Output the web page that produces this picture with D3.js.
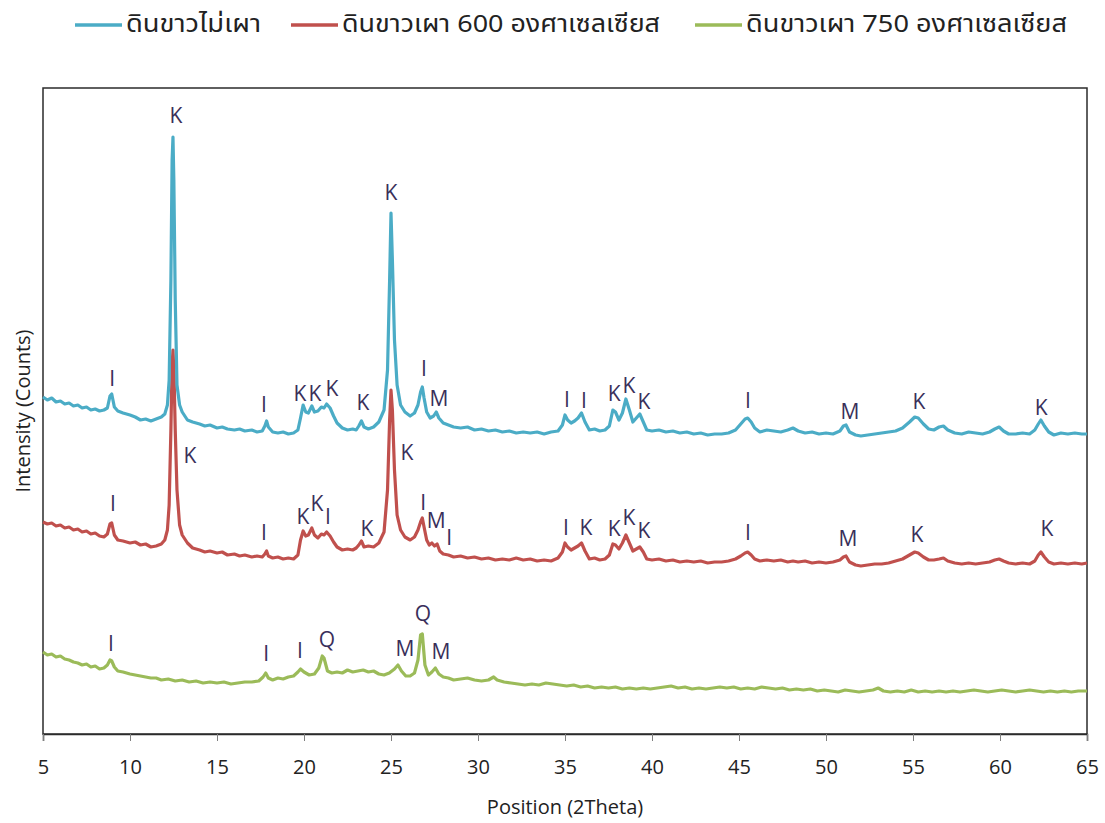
<!DOCTYPE html>
<html>
<head>
<meta charset="utf-8">
<script src="https://cdn.jsdelivr.net/npm/d3@7"></script>
<style>
  body { margin: 0; background: #fff; }
  text { font-family: "Segoe UI", "Open Sans", "Noto Sans", sans-serif; }
  .thai { font-family: Tahoma, "Noto Sans Thai", "Noto Sans Thai UI", "Noto Sans", sans-serif; }
</style>
</head>
<body>
<div id="chart"></div>
<script>
// series names and colours
const seriesNames = ["ดินขาวไม่เผา", "ดินขาวเผา 600 องศาเซลเซียส", "ดินขาวเผา 750 องศาเซลเซียส"];
const seriesColors = ["#4bacc6", "#c0504d", "#9bbb59"];
const xTicks = [5, 10, 15, 20, 25, 30, 35, 40, 45, 50, 55, 60, 65];

// [2theta, intensity] (arbitrary counts, offset stack)
const unfired = [
  [5.0,337],[5.25,334],[5.5,336],[5.75,332],[6.0,333],[6.25,330],[6.5,331],[6.75,328],[7.0,329],[7.25,326],
  [7.5,327],[7.75,324],[8.0,325],[8.25,323],[8.5,324],[8.7,326],[8.85,338],[8.95,340],[9.1,327],[9.3,323],
  [9.6,321],[10.0,319],[10.3,317],[10.6,314],[10.9,315],[11.2,313],[11.5,315],[11.8,317],[12.0,320],[12.15,329],
  [12.25,354],[12.35,454],[12.42,574],[12.47,597],[12.52,554],[12.6,434],[12.7,349],[12.85,329],[13.0,322],[13.3,314],
  [13.6,312],[14.0,310],[14.3,308],[14.6,309],[15.0,306],[15.3,307],[15.6,305],[16.0,304],[16.3,305],[16.6,303],
  [17.0,304],[17.3,302],[17.6,303],[17.75,308],[17.85,313],[17.95,307],[18.2,302],[18.5,301],[18.8,302],[19.1,300],
  [19.4,301],[19.65,304],[19.8,316],[19.95,329],[20.1,322],[20.25,321],[20.45,328],[20.6,322],[20.8,323],[21.0,327],
  [21.15,326],[21.3,330],[21.5,326],[21.7,318],[21.9,311],[22.2,306],[22.5,304],[22.8,305],[23.0,304],[23.15,308],
  [23.3,313],[23.45,307],[23.7,305],[24.0,307],[24.3,312],[24.6,324],[24.8,364],[24.92,454],[25.0,521],[25.08,474],
  [25.2,394],[25.35,349],[25.55,329],[25.8,322],[26.1,318],[26.35,321],[26.55,329],[26.7,342],[26.8,347],[26.9,336],
  [27.05,322],[27.25,316],[27.45,318],[27.6,322],[27.75,316],[28.0,311],[28.3,309],[28.6,307],[29.0,306],[29.4,307],
  [29.8,304],[30.2,305],[30.6,303],[31.0,304],[31.4,302],[31.8,303],[32.2,301],[32.6,302],[33.0,301],[33.4,302],
  [33.8,300],[34.2,302],[34.6,303],[34.85,309],[35.0,319],[35.15,314],[35.35,311],[35.55,313],[35.75,316],[35.95,321],
  [36.15,312],[36.4,304],[36.7,305],[37.0,303],[37.3,304],[37.55,308],[37.75,324],[37.9,322],[38.1,314],[38.3,321],
  [38.5,335],[38.7,324],[38.9,312],[39.1,316],[39.3,320],[39.5,312],[39.7,304],[40.0,303],[40.4,304],[40.8,302],
  [41.2,303],[41.6,301],[42.0,302],[42.4,300],[42.8,301],[43.2,299],[43.6,300],[44.0,300],[44.4,301],[44.8,304],
  [45.1,310],[45.35,315],[45.5,316],[45.7,312],[45.9,306],[46.2,302],[46.6,304],[47.0,303],[47.4,302],[47.8,304],
  [48.1,306],[48.4,303],[48.8,301],[49.2,302],[49.6,300],[50.0,301],[50.4,300],[50.8,303],[51.0,308],[51.15,309],
  [51.35,302],[51.7,299],[52.0,298],[52.4,299],[52.8,300],[53.2,301],[53.6,302],[54.0,303],[54.4,306],[54.8,312],
  [55.1,317],[55.3,316],[55.6,310],[55.9,305],[56.2,304],[56.5,307],[56.75,308],[57.0,304],[57.4,301],[57.8,300],
  [58.2,302],[58.6,301],[59.0,300],[59.4,302],[59.7,305],[59.95,307],[60.2,303],[60.5,300],[60.9,300],[61.3,301],
  [61.7,300],[62.0,304],[62.2,310],[62.35,314],[62.55,308],[62.8,302],[63.1,299],[63.5,301],[63.9,300],[64.3,301],
  [64.7,300],[65.0,300]
];

const fired600 = [
  [5.0,212],[5.25,210],[5.5,211],[5.75,208],[6.0,209],[6.25,206],[6.5,207],[6.75,204],[7.0,205],[7.25,202],
  [7.5,203],[7.75,200],[8.0,201],[8.25,198],[8.5,197],[8.7,200],[8.85,210],[8.95,211],[9.1,199],[9.3,194],
  [9.6,193],[10.0,191],[10.3,192],[10.6,189],[10.9,190],[11.2,187],[11.5,188],[11.8,190],[12.0,194],[12.15,204],
  [12.25,229],[12.35,304],[12.42,369],[12.47,384],[12.53,359],[12.6,304],[12.7,244],[12.85,209],[13.0,199],[13.3,191],
  [13.6,186],[14.0,184],[14.3,182],[14.6,183],[15.0,181],[15.3,182],[15.6,179],[16.0,180],[16.3,178],[16.6,179],
  [17.0,177],[17.3,178],[17.6,177],[17.75,180],[17.85,183],[17.95,178],[18.2,176],[18.5,177],[18.8,175],[19.1,176],
  [19.4,175],[19.65,179],[19.8,194],[19.95,203],[20.1,198],[20.25,199],[20.45,206],[20.6,199],[20.8,196],[21.0,200],
  [21.15,199],[21.3,202],[21.5,198],[21.7,192],[21.9,187],[22.2,184],[22.5,185],[22.8,184],[23.0,186],[23.15,189],
  [23.3,193],[23.45,187],[23.7,188],[24.0,187],[24.3,191],[24.6,202],[24.8,244],[24.92,314],[25.0,344],[25.08,324],
  [25.2,264],[25.35,219],[25.55,204],[25.8,197],[26.1,194],[26.35,197],[26.55,204],[26.7,212],[26.8,216],[26.9,207],
  [27.05,194],[27.2,189],[27.35,191],[27.5,188],[27.65,190],[27.8,183],[28.0,180],[28.3,179],[28.6,177],[29.0,178],
  [29.4,176],[29.8,177],[30.2,175],[30.6,176],[31.0,174],[31.4,175],[31.8,174],[32.2,176],[32.6,174],[33.0,175],
  [33.4,173],[33.8,174],[34.2,173],[34.6,176],[34.85,182],[35.0,191],[35.15,187],[35.35,184],[35.55,186],[35.75,188],
  [35.95,191],[36.15,183],[36.4,175],[36.7,176],[37.0,174],[37.3,175],[37.55,179],[37.75,190],[37.9,189],[38.1,185],
  [38.3,191],[38.5,199],[38.7,191],[38.9,183],[39.1,185],[39.3,187],[39.5,182],[39.7,175],[40.0,174],[40.4,175],
  [40.8,173],[41.2,174],[41.6,172],[42.0,173],[42.4,172],[42.8,173],[43.2,171],[43.6,172],[44.0,172],[44.4,173],
  [44.8,175],[45.1,178],[45.35,181],[45.5,182],[45.7,179],[45.9,175],[46.2,173],[46.6,174],[47.0,173],[47.4,174],
  [47.8,172],[48.1,173],[48.4,172],[48.8,173],[49.2,171],[49.6,172],[50.0,171],[50.4,172],[50.8,174],[51.0,177],
  [51.15,178],[51.35,172],[51.7,169],[52.0,168],[52.4,169],[52.8,170],[53.2,170],[53.6,171],[54.0,173],[54.4,175],
  [54.8,179],[55.1,182],[55.3,181],[55.6,177],[55.9,174],[56.2,174],[56.5,175],[56.75,176],[57.0,173],[57.4,171],
  [57.8,170],[58.2,171],[58.6,170],[59.0,171],[59.4,172],[59.7,174],[59.95,175],[60.2,173],[60.5,171],[60.9,170],
  [61.3,171],[61.7,170],[62.0,173],[62.2,179],[62.35,182],[62.55,177],[62.8,172],[63.1,170],[63.5,171],[63.9,170],
  [64.3,171],[64.7,170],[65.0,171]
];

const fired750 = [
  [5.0,82],[5.25,79],[5.5,80],[5.75,77],[6.0,78],[6.25,75],[6.5,74],[6.75,72],[7.0,71],[7.25,69],
  [7.5,70],[7.75,67],[8.0,68],[8.25,65],[8.5,66],[8.7,69],[8.85,74],[8.95,73],[9.1,67],[9.3,63],
  [9.6,62],[10.0,60],[10.3,59],[10.6,58],[10.9,57],[11.2,56],[11.5,56],[11.8,54],[12.2,55],[12.6,53],
  [13.0,54],[13.4,52],[13.8,53],[14.2,51],[14.6,52],[15.0,51],[15.4,52],[15.8,50],[16.2,51],[16.6,52],
  [17.0,52],[17.4,53],[17.65,57],[17.8,61],[17.95,56],[18.2,54],[18.5,56],[18.8,55],[19.1,57],[19.4,58],
  [19.65,62],[19.8,65],[20.0,62],[20.3,59],[20.6,60],[20.85,66],[21.05,78],[21.15,76],[21.35,63],[21.6,61],
  [21.9,62],[22.2,61],[22.5,64],[22.8,62],[23.1,63],[23.4,64],[23.7,62],[24.0,63],[24.3,60],[24.6,59],
  [24.9,61],[25.2,65],[25.4,69],[25.6,63],[25.85,58],[26.1,58],[26.35,61],[26.55,74],[26.7,99],[26.8,100],
  [26.95,69],[27.15,59],[27.35,62],[27.55,66],[27.75,60],[28.0,57],[28.3,56],[28.6,54],[29.0,55],[29.4,56],
  [29.8,54],[30.2,53],[30.6,54],[30.9,57],[31.1,54],[31.5,52],[31.9,51],[32.3,50],[32.7,49],[33.1,50],
  [33.5,49],[33.9,51],[34.3,50],[34.7,49],[35.1,48],[35.5,49],[35.9,47],[36.3,48],[36.7,46],[37.1,47],
  [37.5,46],[37.9,47],[38.3,45],[38.7,46],[39.1,45],[39.5,46],[39.9,45],[40.3,46],[40.7,47],[41.1,48],
  [41.5,46],[41.9,47],[42.3,45],[42.7,46],[43.1,45],[43.5,46],[43.9,47],[44.3,46],[44.7,47],[45.1,45],
  [45.5,46],[45.9,45],[46.3,47],[46.7,46],[47.1,45],[47.5,46],[47.9,44],[48.3,45],[48.7,44],[49.1,45],
  [49.5,43],[49.9,44],[50.3,43],[50.7,42],[51.1,44],[51.5,43],[51.9,42],[52.3,43],[52.7,44],[53.0,46],
  [53.3,43],[53.7,42],[54.1,43],[54.5,42],[54.9,44],[55.3,42],[55.7,43],[56.1,42],[56.5,43],[56.9,42],
  [57.3,43],[57.7,42],[58.1,43],[58.5,44],[58.9,43],[59.3,42],[59.7,43],[60.1,44],[60.5,43],[60.9,42],
  [61.3,43],[61.7,44],[62.1,43],[62.5,42],[62.9,43],[63.3,42],[63.7,43],[64.1,42],[64.5,43],[65.0,43]
];

// peak labels: [2theta, intensity at label centre, phase]
const labelsUnfired = [
  [8.97,356,"I"],[12.64,619,"K"],[17.7,330,"I"],[19.77,341,"K"],[20.63,341,"K"],[21.61,346,"K"],
  [23.39,332,"K"],[25.0,542,"K"],[26.9,366,"I"],[27.76,336,"M"],[35.11,335,"I"],[36.09,334,"I"],
  [37.82,341,"K"],[38.68,349,"K"],[39.54,333,"K"],[45.52,334,"I"],[51.38,323,"M"],[55.34,333,"K"],[62.36,327,"K"]
];
const labels600 = [
  [9.02,231,"I"],[13.45,279,"K"],[17.7,202,"I"],[19.94,218,"K"],[20.75,231,"K"],[21.38,218,"I"],
  [23.62,206,"K"],[25.92,282,"K"],[26.85,232,"I"],[27.6,214,"M"],[28.35,197,"I"],[35.06,207,"I"],
  [36.2,207,"K"],[37.82,206,"K"],[38.68,217,"K"],[39.54,204,"K"],[45.52,202,"I"],[51.26,196,"M"],
  [55.23,200,"K"],[62.7,206,"K"]
];
const labels750 = [
  [8.91,91,"I"],[17.82,81,"I"],[19.77,84,"I"],[21.32,95,"Q"],[25.8,86,"M"],[26.84,121,"Q"],[27.87,83,"M"]
];

const W = 1105, H = 823;
const margin = { top: 88, right: 18, bottom: 89, left: 43 };

const svg = d3.select("#chart").append("svg")
  .attr("width", W).attr("height", H);

const x = d3.scaleLinear().domain([5, 65]).range([margin.left, W - margin.right]);
const y = d3.scaleLinear().domain([0, 646]).range([H - margin.bottom, margin.top]);

const line = d3.line().x(d => x(d[0])).y(d => y(d[1]));

const allSeries = [unfired, fired600, fired750];
const allLabels = [labelsUnfired, labels600, labels750];

// plot border
svg.append("rect")
  .attr("x", x(5)).attr("y", y(646))
  .attr("width", x(65) - x(5)).attr("height", y(0) - y(646))
  .attr("fill", "none").attr("stroke", "#2b2b2b").attr("stroke-width", 1.5);

// x axis
const xAxis = svg.append("g")
  .attr("transform", `translate(0,${y(0)})`)
  .call(d3.axisBottom(x).tickValues(xTicks).tickSize(7).tickPadding(19).tickFormat(d3.format("d")));
xAxis.select(".domain").attr("stroke", "#2b2b2b").attr("stroke-width", 1.5);
xAxis.selectAll(".tick line").attr("stroke", "#7f7f7f");
xAxis.selectAll("text").attr("font-size", 20).attr("fill", "#222")
  .style("font-family", "'Segoe UI','Open Sans','Noto Sans',sans-serif");

// lines, bottom series first so top ones overlap
[2, 1, 0].forEach(i => {
  svg.append("path")
    .datum(allSeries[i])
    .attr("fill", "none")
    .attr("stroke", seriesColors[i])
    .attr("stroke-width", 3.2)
    .attr("stroke-linejoin", "round")
    .attr("d", line);
});

// phase labels
allLabels.forEach(lbls => {
  svg.append("g").selectAll("text")
    .data(lbls)
    .enter().append("text")
    .attr("x", d => x(d[0]))
    .attr("y", d => y(d[1]))
    .attr("text-anchor", "middle")
    .attr("dominant-baseline", "central")
    .attr("font-size", 21)
    .attr("fill", "#3a2f5a")
    .text(d => d[2]);
});

// axis titles
svg.append("text")
  .attr("x", (x(5) + x(65)) / 2).attr("y", 806)
  .attr("text-anchor", "middle").attr("dominant-baseline", "central")
  .attr("font-size", 20).attr("fill", "#222")
  .text("Position (2Theta)");

svg.append("text")
  .attr("transform", `translate(22,${(y(0) + y(646)) / 2}) rotate(-90)`)
  .attr("text-anchor", "middle").attr("dominant-baseline", "central")
  .attr("font-size", 20).attr("fill", "#222")
  .text("Intensity (Counts)");

// legend
const legendX = [75, 291, 695];
const legendTextW = [135, 318, 321];
const legend = svg.append("g");
seriesNames.forEach((name, i) => {
  const g = legend.append("g").attr("transform", `translate(${legendX[i]},25)`);
  g.append("line").attr("x1", 0).attr("x2", 47).attr("y1", 0).attr("y2", 0)
    .attr("stroke", seriesColors[i]).attr("stroke-width", 3.5);
  g.append("text").attr("class", "thai")
    .attr("x", 51).attr("y", 0)
    .attr("dominant-baseline", "central")
    .attr("font-size", 24).attr("fill", "#222")
    .attr("textLength", legendTextW[i])
    .attr("lengthAdjust", "spacingAndGlyphs")
    .text(name);
});
</script>
</body>
</html>
